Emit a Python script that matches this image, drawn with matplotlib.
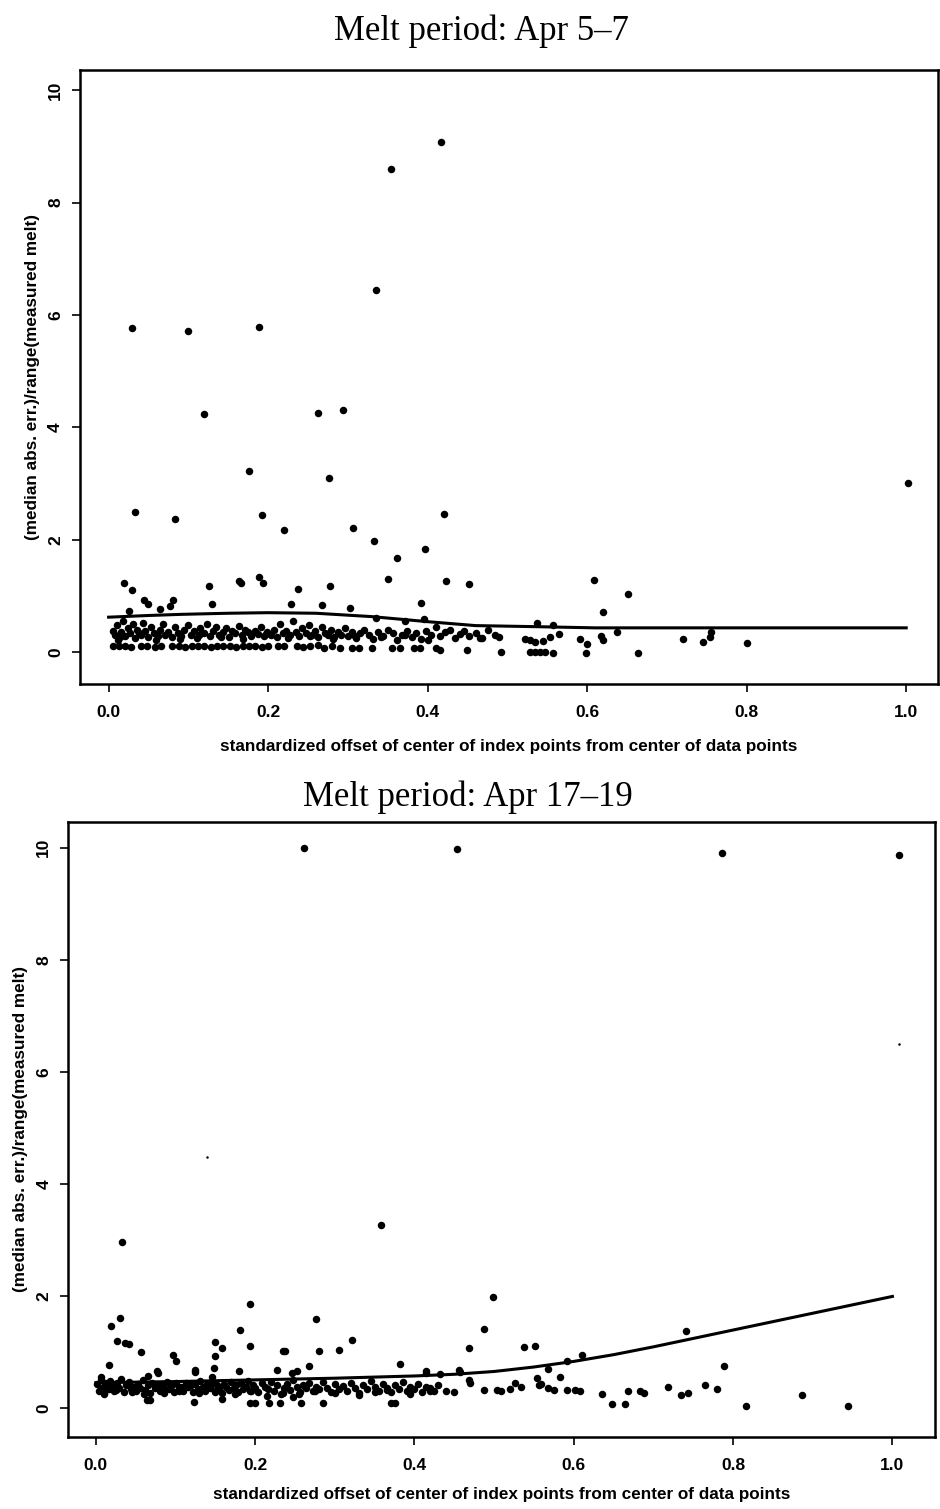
import matplotlib
matplotlib.use("Agg")
import matplotlib.pyplot as plt

# ---- Apr 5-7 melt period ----
apr5_x = [0.029, 0.033, 0.099, 0.120, 0.083, 0.189, 0.176, 0.192, 0.220, 0.262,
          0.294, 0.276, 0.307, 0.335, 0.354, 0.417, 0.333, 0.362, 0.397, 0.420,
          1.002, 0.350, 0.423, 0.452, 0.608, 0.620, 0.651,
          0.019, 0.029, 0.026, 0.044, 0.049, 0.065, 0.077, 0.081, 0.126, 0.129,
          0.163, 0.166, 0.188, 0.193, 0.238, 0.229, 0.277, 0.268, 0.303, 0.392, 0.395]
apr5_y = [5.76, 2.49, 5.71, 4.23, 2.36, 5.78, 3.23, 2.44, 2.17, 4.25,
          4.31, 3.09, 2.20, 6.45, 8.60, 9.08, 1.97, 1.68, 1.83, 2.46,
          3.01, 1.30, 1.27, 1.21, 1.29, 0.71, 1.03,
          1.23, 1.11, 0.73, 0.93, 0.86, 0.76, 0.82, 0.92, 1.17, 0.86,
          1.27, 1.23, 1.34, 1.23, 1.12, 0.86, 1.18, 0.84, 0.78, 0.88, 0.59]

# sparse points to the right of the main cluster
apr5_right_x = [0.468, 0.476, 0.484, 0.490, 0.492, 0.522, 0.528, 0.535, 0.537, 0.545,
                0.553, 0.557, 0.565, 0.528, 0.535, 0.541, 0.547, 0.557, 0.591, 0.600,
                0.599, 0.617, 0.620, 0.637, 0.664, 0.720, 0.745, 0.754, 0.755, 0.800,
                0.449, 0.415, 0.335, 0.372]
apr5_right_y = [0.25, 0.39, 0.30, 0.27, 0.00, 0.23, 0.21, 0.18, 0.52, 0.20,
                0.27, 0.48, 0.32, 0.00, 0.00, 0.00, 0.00, -0.02, 0.23, 0.14,
                -0.02, 0.28, 0.21, 0.36, -0.02, 0.23, 0.18, 0.27, 0.36, 0.16,
                0.03, 0.04, 0.60, 0.55]

# dense band under the smooth
apr5_band_x = [0.005, 0.008, 0.010, 0.012, 0.015, 0.018, 0.020, 0.024, 0.027, 0.030,
               0.033, 0.036, 0.040, 0.043, 0.046, 0.050, 0.053, 0.057, 0.060, 0.064,
               0.068, 0.071, 0.075, 0.079, 0.083, 0.087, 0.091, 0.095, 0.099, 0.103,
               0.107, 0.111, 0.115, 0.119, 0.123, 0.127, 0.131, 0.135, 0.139, 0.143,
               0.147, 0.151, 0.155, 0.159, 0.163, 0.167, 0.171, 0.175, 0.179, 0.183,
               0.187, 0.191, 0.195, 0.199, 0.203, 0.207, 0.211, 0.215, 0.219, 0.223,
               0.227, 0.231, 0.235, 0.239, 0.243, 0.247, 0.251, 0.255, 0.259, 0.263,
               0.267, 0.271, 0.275, 0.279, 0.283, 0.287, 0.291, 0.296, 0.300, 0.305,
               0.310, 0.315, 0.320, 0.326, 0.332, 0.338, 0.344, 0.350, 0.356, 0.362,
               0.368, 0.374, 0.380, 0.386, 0.392, 0.398, 0.404, 0.410, 0.416, 0.422,
               0.428, 0.434, 0.440, 0.446, 0.452, 0.460, 0.466,
               0.014, 0.038, 0.062, 0.089, 0.113, 0.141, 0.169, 0.197, 0.225, 0.253,
               0.281, 0.309, 0.341, 0.371, 0.401]
apr5_band_y = [0.38, 0.30, 0.48, 0.22, 0.35, 0.55, 0.28, 0.42, 0.33, 0.50,
               0.25, 0.40, 0.30, 0.52, 0.37, 0.27, 0.45, 0.33, 0.22, 0.40,
               0.50, 0.30, 0.36, 0.26, 0.44, 0.34, 0.29, 0.40, 0.48, 0.31,
               0.38, 0.25, 0.42, 0.33, 0.50, 0.28, 0.37, 0.45, 0.30, 0.35,
               0.42, 0.27, 0.38, 0.33, 0.46, 0.30, 0.40, 0.35, 0.28, 0.38,
               0.32, 0.44, 0.29, 0.36, 0.31, 0.40, 0.26, 0.50, 0.34, 0.38,
               0.30, 0.55, 0.36, 0.28, 0.42, 0.33, 0.48, 0.30, 0.38, 0.27,
               0.45, 0.34, 0.30, 0.40, 0.26, 0.35, 0.31, 0.42, 0.28, 0.36,
               0.25, 0.33, 0.40, 0.30, 0.24, 0.36, 0.29, 0.40, 0.33, 0.22,
               0.30, 0.38, 0.27, 0.33, 0.23, 0.37, 0.30, 0.45, 0.28, 0.35,
               0.40, 0.25, 0.32, 0.38, 0.28, 0.33, 0.25,
               0.27, 0.33, 0.29, 0.24, 0.31, 0.26, 0.24, 0.32, 0.25, 0.29,
               0.23, 0.28, 0.26, 0.31, 0.22]

# lowest row of points
apr5_low_x = [0.005, 0.013, 0.020, 0.028, 0.040, 0.048, 0.058, 0.066, 0.080, 0.088,
              0.096, 0.104, 0.112, 0.120, 0.128, 0.136, 0.144, 0.152, 0.160, 0.168,
              0.176, 0.184, 0.192, 0.200, 0.212, 0.220, 0.236, 0.244, 0.252, 0.262,
              0.270, 0.280, 0.290, 0.305, 0.314, 0.330, 0.355, 0.365, 0.383, 0.390, 0.410]
apr5_low_y = [0.10, 0.10, 0.11, 0.09, 0.10, 0.10, 0.09, 0.11, 0.10, 0.10,
              0.09, 0.11, 0.10, 0.10, 0.09, 0.10, 0.11, 0.10, 0.09, 0.10,
              0.10, 0.11, 0.09, 0.10, 0.10, 0.11, 0.10, 0.09, 0.10, 0.12,
              0.08, 0.10, 0.07, 0.08, 0.08, 0.07, 0.07, 0.08, 0.07, 0.08, 0.07]

apr5_curve_x = [0.0, 0.05, 0.09, 0.15, 0.2, 0.26, 0.33, 0.4, 0.46, 0.54, 0.61, 0.8, 1.0]
apr5_curve_y = [0.62, 0.65, 0.67, 0.69, 0.70, 0.69, 0.63, 0.54, 0.47, 0.45, 0.43, 0.43, 0.43]

# ---- Apr 17-19 melt period ----
apr17_x = [0.261, 0.454, 0.786, 1.008, 0.358, 0.033, 0.499, 0.194, 0.030, 0.019,
           0.276, 0.181, 0.487, 0.741, 0.027, 0.036, 0.041, 0.322, 0.150, 0.159,
           0.194, 0.235, 0.238, 0.280, 0.305, 0.468, 0.538, 0.551, 0.057, 0.097,
           0.101, 0.149, 0.017, 0.382, 0.610, 0.592, 0.789, 0.077, 0.125, 0.148,
           0.180, 0.227, 0.246, 0.252, 0.268, 0.415, 0.432, 0.456, 0.567, 0.554, 0.583]
apr17_y = [10.0, 9.97, 9.91, 9.87, 3.27, 2.96, 1.98, 1.86, 1.60, 1.47,
           1.58, 1.39, 1.40, 1.38, 1.20, 1.16, 1.14, 1.21, 1.18, 1.07,
           1.11, 1.02, 1.02, 1.02, 1.04, 1.07, 1.09, 1.11, 0.99, 0.94,
           0.84, 0.92, 0.77, 0.78, 0.94, 0.83, 0.74, 0.66, 0.68, 0.72,
           0.66, 0.67, 0.62, 0.65, 0.74, 0.66, 0.61, 0.68, 0.70, 0.53, 0.55]

# two faint specks
apr17_faint_x = [0.139, 1.008]
apr17_faint_y = [4.48, 6.50]

apr17_right_x = [0.468, 0.487, 0.504, 0.509, 0.520, 0.526, 0.534, 0.556, 0.559, 0.567,
                 0.575, 0.591, 0.602, 0.608, 0.635, 0.648, 0.664, 0.668, 0.683, 0.688,
                 0.718, 0.735, 0.743, 0.765, 0.780, 0.816, 0.886, 0.944,
                 0.007, 0.065, 0.078, 0.125, 0.146, 0.415, 0.457, 0.470, 0.440, 0.450]
apr17_right_y = [0.49, 0.32, 0.32, 0.30, 0.34, 0.44, 0.38, 0.41, 0.43, 0.36,
                 0.32, 0.32, 0.32, 0.30, 0.24, 0.07, 0.07, 0.30, 0.30, 0.26,
                 0.37, 0.23, 0.26, 0.40, 0.34, 0.03, 0.23, 0.03,
                 0.55, 0.57, 0.63, 0.64, 0.55, 0.63, 0.64, 0.45, 0.30, 0.29]

apr17_low_x = [0.064, 0.068, 0.123, 0.159, 0.193, 0.200, 0.218, 0.231, 0.247, 0.257,
               0.285, 0.371, 0.376]
apr17_low_y = [0.14, 0.14, 0.10, 0.16, 0.09, 0.09, 0.08, 0.08, 0.20, 0.09,
               0.09, 0.09, 0.09]

apr17_band_x = [0.002, 0.004, 0.006, 0.008, 0.010, 0.012, 0.014, 0.016, 0.018, 0.020,
                0.023, 0.026, 0.029, 0.032, 0.035, 0.038, 0.041, 0.044, 0.047, 0.050,
                0.053, 0.056, 0.059, 0.062, 0.065, 0.068, 0.071, 0.074, 0.077, 0.080,
                0.083, 0.086, 0.089, 0.092, 0.095, 0.098, 0.101, 0.104, 0.107, 0.110,
                0.113, 0.116, 0.119, 0.122, 0.125, 0.128, 0.131, 0.134, 0.137, 0.140,
                0.143, 0.146, 0.149, 0.152, 0.155, 0.158, 0.161, 0.164, 0.167, 0.170,
                0.173, 0.176, 0.179, 0.182, 0.185, 0.188, 0.191, 0.194, 0.197, 0.200,
                0.204, 0.208, 0.212, 0.216, 0.220, 0.224, 0.228, 0.232, 0.236, 0.240,
                0.244, 0.248, 0.252, 0.256, 0.260, 0.264, 0.268, 0.272, 0.276, 0.280,
                0.285, 0.290, 0.295, 0.300, 0.305, 0.310, 0.315, 0.320, 0.325, 0.330,
                0.335, 0.340, 0.345, 0.350, 0.355, 0.360, 0.365, 0.370, 0.375, 0.380,
                0.385, 0.390, 0.395, 0.400, 0.405, 0.410, 0.415, 0.420, 0.425, 0.430,
                0.010, 0.025, 0.045, 0.060, 0.085, 0.105, 0.130, 0.150, 0.175, 0.195,
                0.215, 0.235, 0.255, 0.275, 0.300, 0.330, 0.350, 0.365, 0.395, 0.420]
apr17_band_y = [0.42, 0.30, 0.50, 0.36, 0.27, 0.45, 0.38, 0.33, 0.48, 0.40,
                0.30, 0.44, 0.36, 0.52, 0.28, 0.40, 0.46, 0.34, 0.38, 0.30,
                0.43, 0.36, 0.50, 0.32, 0.40, 0.27, 0.45, 0.35, 0.39, 0.30,
                0.42, 0.36, 0.47, 0.33, 0.40, 0.28, 0.44, 0.35, 0.38, 0.31,
                0.45, 0.37, 0.40, 0.29, 0.43, 0.34, 0.48, 0.38, 0.31, 0.42,
                0.36, 0.45, 0.30, 0.40, 0.35, 0.27, 0.43, 0.38, 0.32, 0.46,
                0.36, 0.40, 0.29, 0.44, 0.34, 0.38, 0.48, 0.31, 0.41, 0.36,
                0.28, 0.44, 0.37, 0.33, 0.47, 0.30, 0.40, 0.25, 0.36, 0.43,
                0.32, 0.50, 0.38, 0.28, 0.41, 0.35, 0.45, 0.30, 0.38, 0.33,
                0.47, 0.36, 0.28, 0.42, 0.34, 0.39, 0.30, 0.44, 0.36, 0.27,
                0.40, 0.33, 0.48, 0.37, 0.30, 0.43, 0.35, 0.28, 0.41, 0.34,
                0.46, 0.31, 0.38, 0.33, 0.42, 0.29, 0.37, 0.35, 0.30, 0.40,
                0.25, 0.32, 0.28, 0.24, 0.27, 0.31, 0.26, 0.29, 0.24, 0.30,
                0.22, 0.27, 0.24, 0.30, 0.26, 0.23, 0.28, 0.32, 0.25, 0.31]

apr17_curve_x = [0.0, 0.1, 0.2, 0.3, 0.4, 0.45, 0.5, 0.55, 0.6, 0.65, 0.7, 0.75,
                 0.8, 0.85, 0.9, 0.95, 1.0]
apr17_curve_y = [0.45, 0.47, 0.50, 0.53, 0.57, 0.60, 0.65, 0.73, 0.83, 0.95, 1.09, 1.24,
                 1.39, 1.54, 1.69, 1.84, 1.99]

xticks = [0.0, 0.2, 0.4, 0.6, 0.8, 1.0]
xticklabels = ["0.0", "0.2", "0.4", "0.6", "0.8", "1.0"]
yticks = [0, 2, 4, 6, 8, 10]

xlabel = "standardized offset of center of index points from center of data points"
ylabel = "(median abs. err.)/range(measured melt)"

fig = plt.figure(figsize=(9.4, 15.09), dpi=100)
ax1 = fig.add_axes([0.085, 0.5467, 0.913, 0.4069])
ax2 = fig.add_axes([0.0723, 0.0477, 0.922, 0.4076])

panels = [
    (ax1, "Melt period: Apr 5\u20137", (0.512, 0.979), 14,
     [(apr5_x, apr5_y), (apr5_right_x, apr5_right_y), (apr5_band_x, apr5_band_y), (apr5_low_x, apr5_low_y)],
     None, (apr5_curve_x, apr5_curve_y), (-0.036, 1.04), (-0.57, 10.36)),
    (ax2, "Melt period: Apr 17\u201319", (0.498, 0.472), 10,
     [(apr17_x, apr17_y), (apr17_right_x, apr17_right_y), (apr17_band_x, apr17_band_y), (apr17_low_x, apr17_low_y)],
     (apr17_faint_x, apr17_faint_y), (apr17_curve_x, apr17_curve_y), (-0.035, 1.053), (-0.52, 10.46)),
]

for ax, title, title_pos, xpad, groups, faint, curve, xlim, ylim in panels:
    for gx, gy in groups:
        ax.plot(gx, gy, "o", color="black", markersize=5.4, markeredgewidth=0)
    if faint is not None:
        ax.plot(faint[0], faint[1], "o", color="black", markersize=1.8, markeredgewidth=0)
    ax.plot(curve[0], curve[1], color="black", linewidth=2.2)

    ax.set_xlim(*xlim)
    ax.set_ylim(*ylim)
    ax.set_xticks(xticks)
    ax.set_xticklabels(xticklabels)
    ax.set_yticks(yticks)
    ax.set_yticklabels([str(t) for t in yticks], rotation=90, va="center")
    ax.tick_params(direction="out", length=6, width=1.2, labelsize=12.5)
    ax.tick_params(axis="y", pad=6)
    ax.tick_params(axis="x", pad=9)
    for lab in ax.get_xticklabels() + ax.get_yticklabels():
        lab.set_fontweight("bold")
        lab.set_family("Liberation Sans")
    for sp in ax.spines.values():
        sp.set_linewidth(1.8)
    ax.set_xlabel(xlabel, fontsize=12.3, fontweight="bold", family="Liberation Sans", labelpad=xpad)
    ax.set_ylabel(ylabel, fontsize=12.3, fontweight="bold", family="Liberation Sans", labelpad=6)
    fig.text(title_pos[0], title_pos[1], title, fontsize=25, family="Liberation Serif",
             ha="center", va="center")

fig.savefig("out.png", dpi=100)
